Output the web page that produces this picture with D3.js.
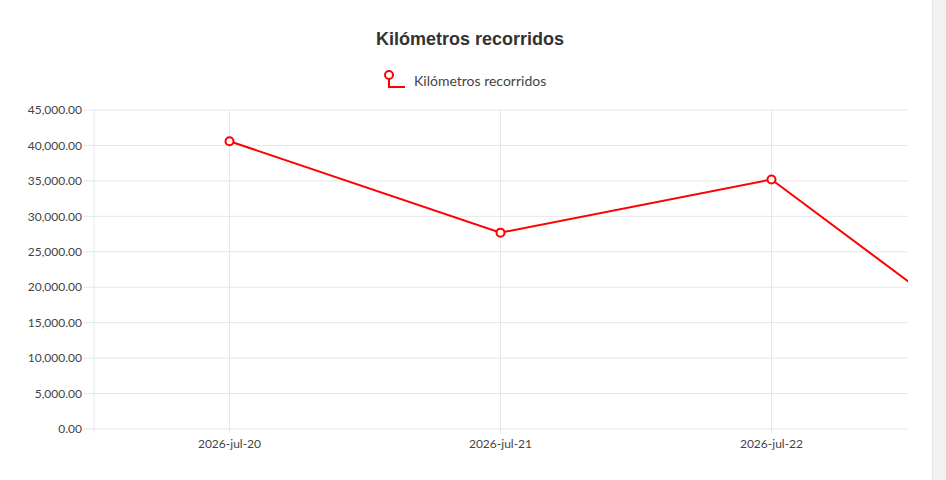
<!DOCTYPE html>
<html><head><meta charset="utf-8">
<script src="https://cdn.jsdelivr.net/npm/d3@7"></script>
<style>
body{margin:0;background:#fff;overflow:hidden}
#bar{position:absolute;left:932px;top:0;width:14px;height:480px;background:#f1f1f1;border-left:1px solid #e6e6e6}
text{font-family:Lato,"Noto Sans",sans-serif}
</style></head><body>
<div id="chart"></div><div id="bar"></div>
<script>
// datos
const fechas = ["2026-jul-20", "2026-jul-21", "2026-jul-22", "2026-jul-23"];
const kilometros = [40600, 27700, 35200, 6700];
const serieNombre = "Kilómetros recorridos";
const yTicks = [0, 5000, 10000, 15000, 20000, 25000, 30000, 35000, 40000, 45000];

const margin = {top: 110, left: 94, bottom: 51};
const W = 932, H = 480;
const plotRight = 908;
const step = 271;

const svg = d3.select("#chart").append("svg").attr("width", W).attr("height", H);

const x = d3.scalePoint().domain(fechas)
  .range([margin.left + step / 2, margin.left + step / 2 + step * (fechas.length - 1)]);
const y = d3.scaleLinear().domain([0, 45000]).range([H - margin.bottom, margin.top]);

// grid horizontal
svg.append("g").selectAll("line").data(yTicks).join("line")
  .attr("x1", 84).attr("x2", plotRight)
  .attr("y1", d => y(d)).attr("y2", d => y(d))
  .attr("stroke", "#e6e6e6");
svg.append("g").selectAll("text").data(yTicks).join("text")
  .attr("x", 82).attr("y", d => y(d)).attr("dy", "0.35em")
  .attr("text-anchor", "end").attr("font-size", 12).attr("fill", "#444")
  .text(d3.format(",.2f"));

// grid vertical
const visibles = fechas.filter(f => x(f) < plotRight);
svg.append("g").selectAll("line").data(visibles).join("line")
  .attr("x1", d => x(d)).attr("x2", d => x(d))
  .attr("y1", margin.top).attr("y2", y(0) + 4)
  .attr("stroke", "#e6e6e6");
svg.append("line").attr("x1", margin.left).attr("x2", margin.left)
  .attr("y1", margin.top).attr("y2", y(0) + 4).attr("stroke", "#e6e6e6");
svg.append("g").selectAll("text").data(visibles).join("text")
  .attr("x", d => x(d)).attr("y", y(0) + 19)
  .attr("text-anchor", "middle").attr("font-size", 12).attr("fill", "#444")
  .text(d => d);

// línea
svg.append("clipPath").attr("id", "clip").append("rect")
  .attr("x", margin.left).attr("y", 0).attr("width", plotRight - margin.left).attr("height", H);
const g = svg.append("g").attr("clip-path", "url(#clip)");
const datos = fechas.map((f, i) => ({f, v: kilometros[i]}));
g.append("path").datum(datos)
  .attr("fill", "none").attr("stroke", "red").attr("stroke-width", 2)
  .attr("d", d3.line().x(d => x(d.f)).y(d => y(d.v)));
g.selectAll("circle").data(datos).join("circle")
  .attr("cx", d => x(d.f)).attr("cy", d => y(d.v)).attr("r", 4)
  .attr("fill", "#fff").attr("stroke", "red").attr("stroke-width", 2);

// título
svg.append("text").attr("x", 470).attr("y", 45).attr("text-anchor", "middle")
  .style("font-family", "'Liberation Sans',Arial,sans-serif")
  .attr("font-size", 18).attr("font-weight", "bold").attr("fill", "#333")
  .text(serieNombre);

// leyenda
const lg = svg.append("g").attr("transform", "translate(389,75)");
lg.append("path").attr("d", "M0,4 V12 H16").attr("fill", "none").attr("stroke", "red").attr("stroke-width", 2);
lg.append("circle").attr("cx", 0).attr("cy", 0).attr("r", 4).attr("fill", "#fff").attr("stroke", "red").attr("stroke-width", 2);
lg.append("text").attr("x", 25).attr("y", 6).attr("dy", "0.35em").attr("font-size", 14).attr("fill", "#444")
  .text(serieNombre);
</script></body></html>
